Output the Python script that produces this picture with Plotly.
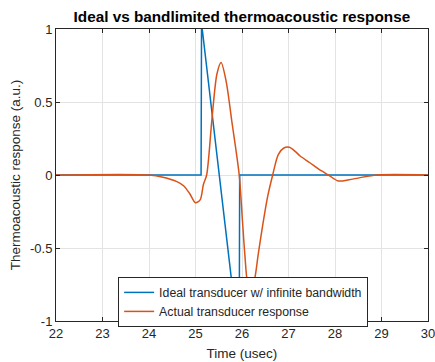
import plotly.graph_objects as go

# Ideal N-wave response
ideal_t = [22, 25.12, 25.13, 25.94, 25.95, 30]
ideal_y = [0, 0, 1.04, -1.17, 0, 0]

# Actual (bandlimited) transducer response
actual_t = [22, 24.0, 24.3, 24.6, 24.75, 24.88, 25.0, 25.1, 25.17, 25.24, 25.35,
            25.46, 25.55, 25.66, 25.78, 25.94, 26.01, 26.06, 26.12, 26.2, 26.28,
            26.35, 26.46, 26.55, 26.66, 26.78, 26.9, 27.02, 27.15, 27.25, 27.46,
            27.65, 27.86, 28.07, 28.3, 28.54, 28.9, 30]
actual_y = [0, 0, -0.015, -0.045, -0.075, -0.13, -0.19, -0.17, -0.065, 0.0, 0.37,
            0.69, 0.77, 0.64, 0.37, 0.0, -0.315, -0.54, -0.74, -0.8, -0.7,
            -0.54, -0.315, -0.15, 0.0, 0.14, 0.185, 0.19, 0.16, 0.13, 0.084,
            0.04, 0.0, -0.041, -0.033, -0.018, 0.0, 0.0]

x_ticks = [22, 23, 24, 25, 26, 27, 28, 29, 30]
y_ticks = [-1, -0.5, 0, 0.5, 1]
y_ticklabels = ["-1", "-0.5", "0", "0.5", "1"]

FONT = "Liberation Sans, Arial, sans-serif"

fig = go.Figure()
fig.add_trace(go.Scatter(x=ideal_t, y=ideal_y, mode="lines",
                         name="Ideal transducer w/ infinite bandwidth",
                         line=dict(color="#0072BD", width=1.5)))
fig.add_trace(go.Scatter(x=actual_t, y=actual_y, mode="lines",
                         name="Actual transducer response",
                         line=dict(color="#D95319", width=1.5, shape="spline", smoothing=0.8)))

axis_common = dict(showline=True, linecolor="#262626", linewidth=1, mirror="allticks",
                   ticks="inside", ticklen=4, tickcolor="#262626",
                   showgrid=True, gridcolor="#e3e3e3", gridwidth=1, zeroline=False,
                   ticklabeloverflow="allow", automargin=False,
                   tickfont=dict(family=FONT, size=13, color="#262626"))

fig.update_layout(
    width=435, height=362,
    margin=dict(l=56, r=7, t=29, b=41),
    paper_bgcolor="white", plot_bgcolor="white",
    title=dict(text="<b>Ideal vs bandlimited thermoacoustic response</b>",
               x=0.556, xanchor="center", y=0.955, yanchor="middle",
               font=dict(family=FONT, size=15.3, color="black")),
    xaxis=dict(range=[22, 30], tickvals=x_ticks,
               title=dict(text="Time (usec)", standoff=8,
                          font=dict(family=FONT, size=13.5, color="#262626")),
               **axis_common),
    yaxis=dict(range=[-1, 1], tickvals=y_ticks, ticktext=y_ticklabels,
               title=dict(text="Thermoacoustic response (a.u.)", standoff=6,
                          font=dict(family=FONT, size=13.5, color="#262626")),
               **axis_common),
    legend=dict(x=0.167, y=0.151, xanchor="left", yanchor="top",
                bgcolor="white", bordercolor="#262626", borderwidth=1,
                font=dict(family=FONT, size=12.3, color="#262626"),
                tracegroupgap=0),
    showlegend=True,
)

fig.write_html("out.html", config={"displayModeBar": False},
               post_script="document.body.style.margin='0';document.body.style.overflow='hidden';")
